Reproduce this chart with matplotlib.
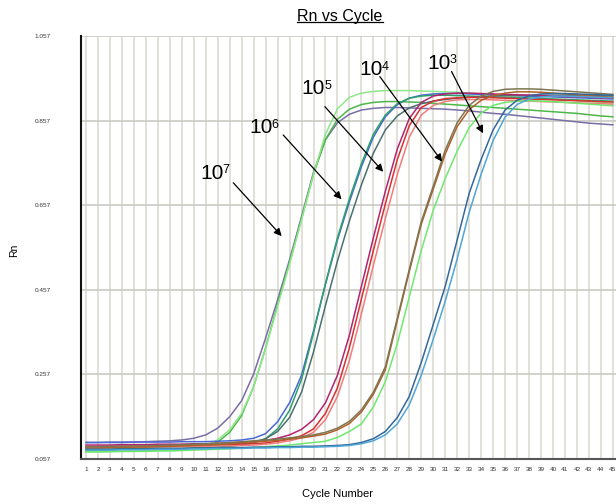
#!/usr/bin/env python3
"""Rn vs Cycle amplification plot (10-fold dilution series, 10^7 down to 10^3 copies)."""
import matplotlib

matplotlib.use("Agg")
import matplotlib.pyplot as plt
from matplotlib.lines import Line2D
import numpy as np

plt.rcParams.update({"font.family": ["Liberation Sans", "DejaVu Sans"]})

cycles = np.arange(1, 46)
y_ticks = [0.057, 0.257, 0.457, 0.657, 0.857, 1.057]

# ---- 10^7 ----
p7 = [0.096, 0.096, 0.097, 0.097, 0.097, 0.098, 0.099, 0.100, 0.102, 0.106,
      0.114, 0.130, 0.157, 0.195, 0.258, 0.343, 0.433, 0.528, 0.630, 0.735,
      0.812, 0.852, 0.872, 0.882, 0.886, 0.888, 0.888, 0.887, 0.886, 0.885,
      0.884, 0.882, 0.880, 0.877, 0.874, 0.872, 0.869, 0.866, 0.863, 0.860,
      0.857, 0.854, 0.851, 0.849, 0.847]
g7 = [0.078, 0.078, 0.078, 0.079, 0.079, 0.079, 0.080, 0.080, 0.081, 0.083,
      0.087, 0.097, 0.120, 0.160, 0.228, 0.320, 0.422, 0.522, 0.625, 0.730,
      0.812, 0.860, 0.884, 0.895, 0.900, 0.902, 0.902, 0.901, 0.900, 0.898,
      0.896, 0.894, 0.892, 0.890, 0.888, 0.886, 0.884, 0.882, 0.880, 0.878,
      0.876, 0.874, 0.871, 0.868, 0.866]
lg7 = [0.074, 0.074, 0.075, 0.075, 0.075, 0.076, 0.077, 0.078, 0.080, 0.083,
       0.089, 0.102, 0.126, 0.165, 0.228, 0.318, 0.418, 0.518, 0.622, 0.730,
       0.825, 0.885, 0.912, 0.922, 0.926, 0.928, 0.928, 0.928, 0.927, 0.926,
       0.925, 0.924, 0.922, 0.920, 0.918, 0.916, 0.914, 0.912, 0.910, 0.908,
       0.906, 0.904, 0.902, 0.900, 0.898]
# ---- 10^6 ----
b6 = [0.096, 0.096, 0.096, 0.096, 0.097, 0.097, 0.097, 0.097, 0.098, 0.098,
      0.098, 0.099, 0.100, 0.102, 0.106, 0.117, 0.145, 0.190, 0.255, 0.360,
      0.470, 0.575, 0.665, 0.748, 0.818, 0.866, 0.895, 0.910, 0.917, 0.920,
      0.921, 0.921, 0.920, 0.919, 0.918, 0.917, 0.916, 0.915, 0.914, 0.913,
      0.912, 0.911, 0.910, 0.909, 0.908]
t6 = [0.080, 0.080, 0.080, 0.081, 0.081, 0.081, 0.082, 0.082, 0.082, 0.083,
      0.084, 0.085, 0.087, 0.090, 0.095, 0.105, 0.128, 0.172, 0.245, 0.355,
      0.472, 0.580, 0.672, 0.755, 0.825, 0.870, 0.897, 0.910, 0.915, 0.917,
      0.917, 0.916, 0.915, 0.914, 0.913, 0.912, 0.911, 0.910, 0.909, 0.908,
      0.907, 0.906, 0.905, 0.904, 0.903]
s6 = [0.086, 0.086, 0.086, 0.087, 0.087, 0.087, 0.088, 0.088, 0.088, 0.089,
      0.089, 0.090, 0.091, 0.093, 0.097, 0.105, 0.122, 0.155, 0.215, 0.310,
      0.420, 0.525, 0.620, 0.705, 0.780, 0.835, 0.868, 0.887, 0.897, 0.903,
      0.907, 0.910, 0.912, 0.914, 0.915, 0.916, 0.917, 0.917, 0.917, 0.917,
      0.917, 0.917, 0.916, 0.916, 0.915]
# ---- 10^5 ----
r5 = [0.086, 0.086, 0.087, 0.087, 0.087, 0.088, 0.088, 0.088, 0.089, 0.089,
      0.090, 0.090, 0.091, 0.092, 0.093, 0.095, 0.099, 0.104, 0.112, 0.128,
      0.165, 0.225, 0.320, 0.435, 0.550, 0.660, 0.765, 0.845, 0.888, 0.903,
      0.909, 0.911, 0.912, 0.912, 0.911, 0.910, 0.909, 0.908, 0.907, 0.906,
      0.905, 0.904, 0.903, 0.902, 0.901]
m5 = [0.090, 0.090, 0.090, 0.091, 0.091, 0.091, 0.092, 0.092, 0.092, 0.093,
      0.093, 0.094, 0.095, 0.096, 0.098, 0.101, 0.106, 0.114, 0.127, 0.150,
      0.190, 0.255, 0.350, 0.465, 0.580, 0.690, 0.790, 0.862, 0.900, 0.915,
      0.920, 0.922, 0.922, 0.921, 0.920, 0.919, 0.918, 0.917, 0.916, 0.915,
      0.914, 0.913, 0.912, 0.911, 0.910]
k5 = [0.084, 0.084, 0.084, 0.085, 0.085, 0.085, 0.086, 0.086, 0.086, 0.087,
      0.087, 0.088, 0.088, 0.089, 0.090, 0.092, 0.095, 0.100, 0.107, 0.120,
      0.150, 0.205, 0.290, 0.400, 0.515, 0.625, 0.730, 0.818, 0.870, 0.893,
      0.902, 0.906, 0.907, 0.907, 0.906, 0.905, 0.904, 0.903, 0.902, 0.901,
      0.900, 0.899, 0.898, 0.897, 0.896]
# ---- 10^4 ----
br4 = [0.083, 0.083, 0.084, 0.084, 0.085, 0.085, 0.086, 0.087, 0.088, 0.089,
       0.090, 0.091, 0.093, 0.095, 0.097, 0.099, 0.101, 0.104, 0.107, 0.111,
       0.116, 0.126, 0.141, 0.168, 0.210, 0.268, 0.385, 0.500, 0.612, 0.695,
       0.778, 0.843, 0.883, 0.905, 0.916, 0.922, 0.925, 0.925, 0.924, 0.922,
       0.920, 0.918, 0.916, 0.914, 0.912]
ol4 = [0.086, 0.086, 0.087, 0.087, 0.088, 0.088, 0.089, 0.090, 0.091, 0.092,
       0.093, 0.094, 0.096, 0.098, 0.100, 0.102, 0.104, 0.107, 0.110, 0.114,
       0.120, 0.130, 0.146, 0.173, 0.215, 0.275, 0.390, 0.505, 0.618, 0.702,
       0.787, 0.852, 0.893, 0.915, 0.926, 0.931, 0.932, 0.932, 0.931, 0.929,
       0.927, 0.925, 0.923, 0.921, 0.919]
lg4 = [0.074, 0.074, 0.074, 0.075, 0.075, 0.075, 0.076, 0.076, 0.077, 0.078,
       0.079, 0.080, 0.081, 0.083, 0.084, 0.086, 0.088, 0.090, 0.093, 0.096,
       0.099, 0.108, 0.122, 0.140, 0.180, 0.240, 0.330, 0.440, 0.550, 0.645,
       0.720, 0.785, 0.840, 0.875, 0.893, 0.900, 0.903, 0.904, 0.903, 0.902,
       0.900, 0.898, 0.896, 0.894, 0.892]
# ---- 10^3 ----
sb3 = [0.080, 0.080, 0.080, 0.081, 0.081, 0.081, 0.082, 0.082, 0.082, 0.083,
       0.083, 0.084, 0.084, 0.084, 0.085, 0.085, 0.086, 0.086, 0.087, 0.087,
       0.088, 0.089, 0.091, 0.096, 0.105, 0.122, 0.155, 0.205, 0.285, 0.375,
       0.465, 0.575, 0.685, 0.765, 0.835, 0.882, 0.905, 0.915, 0.920, 0.921,
       0.921, 0.920, 0.919, 0.918, 0.917]
lb3 = [0.078, 0.078, 0.078, 0.079, 0.079, 0.079, 0.080, 0.080, 0.080, 0.081,
       0.081, 0.082, 0.082, 0.082, 0.083, 0.083, 0.084, 0.084, 0.085, 0.085,
       0.086, 0.087, 0.089, 0.093, 0.100, 0.114, 0.140, 0.185, 0.255, 0.340,
       0.430, 0.530, 0.640, 0.730, 0.810, 0.865, 0.895, 0.908, 0.913, 0.915,
       0.915, 0.914, 0.913, 0.912, 0.911]

series = [
    (p7, "#7a6ea6"), (g7, "#4cb848"), (lg7, "#8fe88a"),
    (b6, "#4a68d6"), (t6, "#2fa06a"), (s6, "#4a7070"),
    (r5, "#d93030"), (m5, "#b3246f"), (k5, "#f07c7c"),
    (br4, "#b0612a"), (ol4, "#7d7652"), (lg4, "#6fe86f"),
    (sb3, "#35689a"), (lb3, "#4ea6d6"),
]

# label exponent, label centre, arrow tail, arrow head (data coords)
labels = [
    ("7", (11.5, 0.733), (13.3, 0.710), (17.34, 0.584)),
    ("6", (15.6, 0.840), (17.47, 0.823), (22.34, 0.671)),
    ("5", (20.0, 0.932), (20.95, 0.890), (25.82, 0.736)),
    ("4", (24.8, 0.978), (25.54, 0.961), (30.74, 0.760)),
    ("3", (30.5, 0.993), (31.53, 0.973), (34.16, 0.827)),
]

fig = plt.figure(figsize=(6.16, 5.04), dpi=100)
ax = fig.add_axes([81 / 616, 45 / 504, 539 / 616, 423 / 504])

for c in cycles:
    ax.axvline(c, color="#d8d8cf", lw=1.1, zorder=0)
for t in y_ticks[1:]:
    ax.axhline(t, color="#c6c6be", lw=1.1, zorder=0)

for vals, col in series:
    ax.plot(cycles, vals, color=col, lw=1.1, zorder=2)

for exp, txt, tail, head in labels:
    ax.annotate("", xy=head, xytext=tail,
                arrowprops=dict(arrowstyle="-|>", color="black", lw=0.9,
                                mutation_scale=11, shrinkA=0, shrinkB=0), zorder=4)
    ax.text(*txt, "10", fontsize=15, ha="center", va="center", zorder=4)
    ax.annotate(exp, xy=txt, xytext=(7.6, 6.2), textcoords="offset points",
                fontsize=9, ha="left", va="top", zorder=4)

ax.set_xlim(0.58, 45.6)
ax.set_ylim(0.057, 1.057)
ax.set_xticks(cycles)
ax.set_xticklabels([str(c) for c in cycles], fontsize=4.6, color="#333333")
ax.set_yticks(y_ticks)
ax.set_yticklabels([f"{t:.3f}" for t in y_ticks], fontsize=4.6, color="#333333")
ax.tick_params(axis="x", length=0, pad=6)
ax.tick_params(axis="y", length=0, pad=22)
for s in ("top", "right"):
    ax.spines[s].set_visible(False)
ax.spines["left"].set_linewidth(1.5)
ax.spines["left"].set_color("#111111")
ax.spines["bottom"].set_linewidth(1.5)
ax.spines["bottom"].set_color("#555555")

title = fig.text(340 / 616, 1 - 16 / 504, "Rn vs Cycle", fontsize=11.5, ha="center", va="center")
fig.text(14 / 616, 1 - 250 / 504, "Rn", fontsize=7.5, rotation=90, ha="center", va="center")
fig.text(337 / 616, 1 - 494 / 504, "Cycle Number", fontsize=8, ha="center", va="center")

fig.canvas.draw()
bb = title.get_window_extent().transformed(fig.transFigure.inverted())
fig.add_artist(Line2D([bb.x0, bb.x1], [bb.y0 + 0.002, bb.y0 + 0.002], color="black", lw=0.9))

fig.savefig("out.png", dpi=100)
